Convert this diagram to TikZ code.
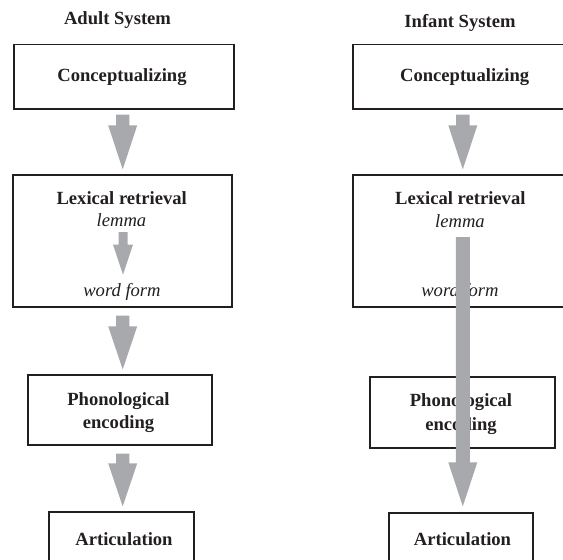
\documentclass[tikz,border=0pt]{standalone}
\usepackage{fontspec}
\setmainfont{Liberation Serif}
\usetikzlibrary{calc}
\definecolor{arrgray}{RGB}{167,169,172}
\definecolor{ink}{RGB}{35,31,32}
% #1 start, #2 end, #3 shaft half width, #4 head half width, #5 head length, #6 start gap, #7 end gap
\newcommand\garrow[7]{%
  \fill[arrgray] let \p1=#1, \p2=#2 in
    (\x1-#3pt,\y1-#6pt) -- (\x1+#3pt,\y1-#6pt) -- (\x1+#3pt,\y2+#7pt+#5pt)
    -- (\x1+#4pt,\y2+#7pt+#5pt) -- (\x1,\y2+#7pt) -- (\x1-#4pt,\y2+#7pt+#5pt)
    -- (\x1-#3pt,\y2+#7pt+#5pt) -- cycle;}
\begin{document}
\begin{tikzpicture}[x=1pt,y=-1pt,
  box/.style={draw=ink, line width=1.3pt, rectangle, inner sep=0pt},
  lbl/.style={anchor=base, inner sep=0pt, text=ink, font=\fontsize{18.6}{22}\selectfont\bfseries},
  itl/.style={anchor=base, inner sep=0pt, text=ink, font=\fontsize{18.6}{22}\selectfont\itshape},
]
\useasboundingbox (0,0) rectangle (563,560);
\clip (0,0) rectangle (563,560);

% axes of the arrows
\coordinate (axl) at (122.7,0);
\coordinate (axr) at (462.8,0);
\coordinate (axs) at (123,0);

% titles
\node[lbl] (tadult) at (117.5,24) {Adult System};
\node[lbl] (tinfant) at (460,27.3) {Infant System};

% ---- Adult system boxes
\node[box, minimum width=220pt, minimum height=64.5pt] (c1) at (124,76.75) {};
\node[box, minimum width=219pt, minimum height=132pt] (l1) at (122.5,241) {};
\node[box, minimum width=184pt, minimum height=70pt] (p1) at (120,410) {};
\node[box, minimum width=145pt, minimum height=68pt] (a1) at (121.5,546) {};

\node[lbl] (c1t) at (122,81) {Conceptualizing};
\node[lbl] (l1t) at (121.7,204) {Lexical retrieval};
\node[itl] (l1m) at (121.5,226.7) {lemma};
\node[itl] (l1w) at (122,296) {word form};
\node[lbl] (p1t) at (118.5,405) {Phonological};
\node[lbl] (p1e) at (118.5,428.3) {encoding};
\node[lbl] (a1t) at (124,545) {Articulation};

% ---- Infant system boxes
\node[box, minimum width=222pt, minimum height=64.5pt] (c2) at (464,76.75) {};
\node[box, minimum width=222pt, minimum height=132pt] (l2) at (464,241) {};
\node[box, minimum width=185pt, minimum height=71pt] (p2) at (462.5,412.5) {};
\node[box, minimum width=144pt, minimum height=67pt] (a2) at (461,546.5) {};

\node[lbl] (c2t) at (464.7,81) {Conceptualizing};
\node[lbl] (l2t) at (460.3,204) {Lexical retrieval};
\node[itl] (l2m) at (460,227.7) {lemma};
\node[itl] (l2w) at (460,296) {word form};
\node[lbl] (p2t) at (461,406.7) {Phonological};
\node[lbl] (p2e) at (461,430) {encoding};
\node[lbl] (a2t) at (462.5,545) {Articulation};

% ---- Adult arrows
\garrow{(axl |- c1.south)}{(axl |- l1.north)}{6.7}{14.5}{44}{5}{5}
\garrow{(axs |- l1m.south)}{(axs |- l1w.north)}{4.5}{10}{30}{5}{8}
\garrow{(axl |- l1.south)}{(axl |- p1.north)}{6.7}{14.5}{43}{8}{5}
\garrow{(axl |- p1.south)}{(axl |- a1.north)}{6.7}{14.5}{43}{8}{5}

% ---- Infant arrows
\garrow{(axr |- c2.south)}{(axr |- l2.north)}{6.7}{14.5}{44}{5}{5}
\garrow{(axr |- l2m.south)}{(axr |- a2.north)}{7}{14.5}{44}{9}{6}
\end{tikzpicture}
\end{document}
